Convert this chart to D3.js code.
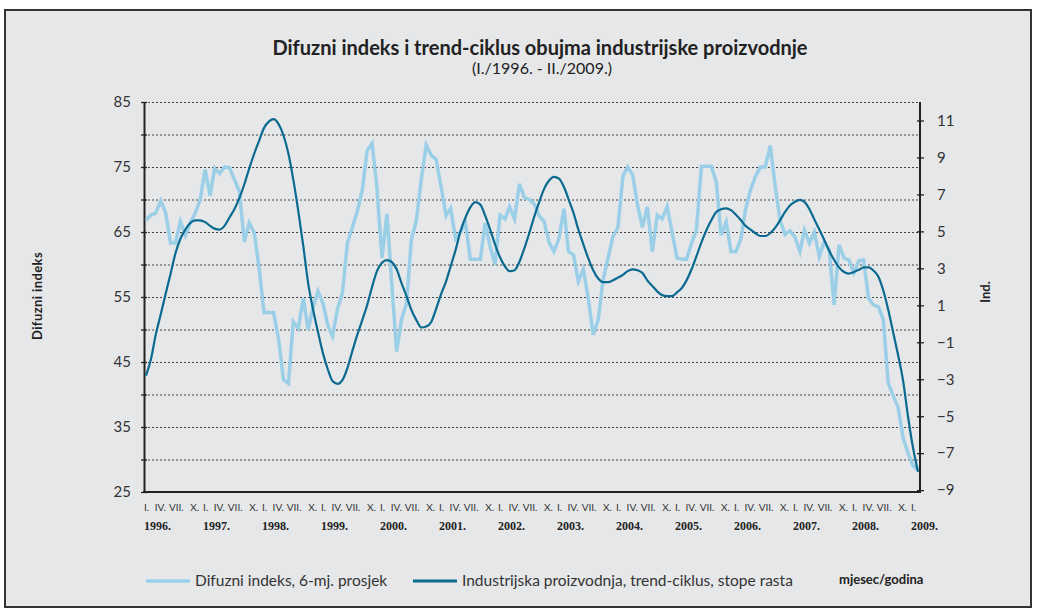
<!DOCTYPE html>
<meta charset="utf-8">
<style>
body { margin: 0; background: #fff; }
svg { display: block; font-family: Lato, "Open Sans", sans-serif; }
.grid line { stroke: #444; stroke-width: 1; stroke-dasharray: 2,2; }
.axis path { stroke: #222; stroke-width: 2; }
.axis line { stroke: #222; stroke-width: 1.3; }
.axis text { font-size: 15px; fill: #333; font-family: Lato, sans-serif; }
</style>
<svg width="1038" height="615"></svg>
<script src="https://cdn.jsdelivr.net/npm/d3@7"></script>
<script>
// monthly data, I./1996. - II./2009.
var difuzni = [
  66.8, 67.6, 67.9, 69.8, 68.0, 63.3, 63.3, 66.6, 64.5, 66.4, 67.9, 69.9,
  74.6, 70.6, 74.8, 74.0, 75.0, 74.9, 73.1, 71.2, 63.5, 66.4, 64.9, 59.5,
  52.6, 52.6, 52.6, 48.5, 42.3, 41.7, 51.2, 50.2, 54.8, 50.0, 53.5, 55.9,
  54.0, 50.5, 49.0, 53.2, 55.6, 63.3, 65.6, 68.2, 71.4, 77.5, 78.6, 71.8,
  61.0, 67.8, 57.3, 46.6, 51.5, 54.0, 63.8, 66.8, 73.2, 78.4, 76.8, 76.2,
  72.0, 67.5, 68.6, 64.0, 65.0, 66.5, 60.8, 60.8, 60.8, 66.4, 62.7, 60.0,
  67.6, 67.0, 68.9, 67.0, 72.4, 70.3, 70.0, 69.3, 67.5, 66.6, 63.4, 62.0,
  64.0, 68.6, 62.0, 61.5, 57.4, 59.3, 54.8, 49.2, 51.5, 57.6, 61.0, 64.3,
  65.7, 73.6, 75.0, 73.8, 69.2, 65.7, 68.9, 62.0, 67.6, 67.0, 68.9, 65.0,
  61.0, 60.8, 60.8, 63.3, 65.3, 75.1, 75.1, 75.1, 72.7, 64.5, 66.6, 62.0,
  62.0, 64.0, 68.5, 71.5, 73.5, 75.0, 75.0, 78.3, 72.0, 66.8, 64.6, 65.2,
  64.2, 62.0, 65.3, 63.3, 65.0, 61.2, 63.5, 62.3, 53.8, 63.0, 61.0, 60.7,
  58.7, 60.6, 60.7, 54.8, 53.8, 53.5, 51.5, 41.7, 39.8, 38.0, 33.3, 31.0,
  29.0, 28.4
];
var trend = [
  -2.8, -1.9, -0.6, 0.5, 1.6, 2.7, 3.8, 4.6, 5.1, 5.45, 5.6, 5.6,
  5.5, 5.3, 5.15, 5.1, 5.3, 5.75, 6.2, 6.8, 7.55, 8.4, 9.2, 9.9,
  10.6, 10.95, 11.07, 10.8, 10.2, 9.2, 7.8, 6.1, 4.2, 2.2, 0.75, -0.45,
  -1.6, -2.5, -3.1, -3.25, -3.05, -2.4, -1.5, -0.6, 0.2, 1.0, 2.0, 2.85,
  3.3, 3.45, 3.35, 2.95, 2.2, 1.5, 0.75, 0.2, -0.2, -0.15, 0.1, 0.8,
  1.6, 2.3, 3.1, 4.0, 5.0, 5.75, 6.3, 6.58, 6.45, 5.85, 5.1, 4.3,
  3.6, 3.1, 2.85, 2.9, 3.35, 4.1, 4.9, 5.8, 6.6, 7.3, 7.75, 7.95,
  7.85, 7.4, 6.75, 6.0, 5.1, 4.3, 3.55, 2.9, 2.45, 2.25, 2.25, 2.35,
  2.5, 2.65, 2.85, 2.95, 2.9, 2.75, 2.35, 2.05, 1.75, 1.55, 1.5, 1.5,
  1.7, 1.95, 2.35, 2.95, 3.65, 4.4, 5.05, 5.6, 6.05, 6.2, 6.25, 6.15,
  5.9, 5.6, 5.3, 5.1, 4.9, 4.75, 4.75, 4.9, 5.2, 5.6, 6.05, 6.4,
  6.6, 6.7, 6.6, 6.2, 5.65, 5.1, 4.55, 3.95, 3.45, 3.05, 2.8, 2.72,
  2.8, 2.92, 3.05, 3.05, 2.88, 2.55, 1.8, 0.75, -0.5, -1.7, -3.1, -5.0,
  -6.7, -8.0
];
var quarterLabels = ["I.", "IV.", "VII.", "X."];
var years = d3.range(1996, 2010);
var leftTicks = [25, 35, 45, 55, 65, 75, 85];
var rightTicks = [-9, -7, -5, -3, -1, 1, 3, 5, 7, 9, 11];

var months = d3.timeMonth.range(new Date(1996, 0, 1), new Date(2009, 2, 1));

var svg = d3.select("svg");
var lightBlue = "#9bcfe7", darkBlue = "#0a6a90";

// frame + background
svg.append("rect").attr("x", 5).attr("y", 10).attr("width", 1026).attr("height", 597)
  .attr("fill", "#e6e7e9").attr("stroke", "#333").attr("stroke-width", 2);

var plotL = 144, plotR = 920, plotT = 102, plotB = 492;
var x = d3.scaleTime().domain([months[0], months[months.length - 1]]).range([146, 918]);
var yL = d3.scaleLinear().domain([25, 85]).range([plotB, plotT]);
var yR = d3.scaleLinear().domain([-9.1, 12]).range([plotB, plotT]);

// dotted grid every 5
svg.append("g").attr("class", "grid")
  .selectAll("line").data(d3.range(30, 86, 5)).enter().append("line")
  .attr("x1", plotL).attr("x2", plotR)
  .attr("y1", function(d) { return yL(d) + 0.5; })
  .attr("y2", function(d) { return yL(d) + 0.5; });

// left axis
var gL = svg.append("g").attr("class", "axis").attr("transform", "translate(" + plotL + ",0)")
  .call(d3.axisLeft(yL).tickValues(d3.range(25, 86, 5)).tickSizeInner(3).tickSizeOuter(0).tickPadding(10)
    .tickFormat(function(d) { return leftTicks.indexOf(d) >= 0 ? d : ""; }));
gL.selectAll(".tick line").attr("x1", 3).attr("x2", -3);

// right axis
var gR = svg.append("g").attr("class", "axis").attr("transform", "translate(" + plotR + ",0)")
  .call(d3.axisRight(yR).tickValues(rightTicks).tickSizeInner(3).tickSizeOuter(0).tickPadding(14));
gR.selectAll(".tick line").attr("x1", -3).attr("x2", 4);
gR.select(".domain").attr("d", "M0," + plotT + "V" + plotB);

// x baseline
svg.append("line").attr("x1", plotL - 1).attr("x2", plotR + 1).attr("y1", plotB).attr("y2", plotB)
  .attr("stroke", "#222").attr("stroke-width", 2);

// month labels (left-aligned near their month)
var qOffset = [-2, -6, -6.5, 0];
var qMonths = months.filter(function(d) { return d.getMonth() % 3 === 0; });
svg.append("g").selectAll("text").data(qMonths).enter().append("text")
  .attr("x", function(d) { return x(d) + qOffset[d.getMonth() / 3]; })
  .attr("y", 511)
  .attr("font-size", 10)
  .attr("fill", "#333")
  .text(function(d) { return quarterLabels[d.getMonth() / 3]; });

svg.append("g").selectAll("text").data(years).enter().append("text")
  .attr("x", function(d) { return x(new Date(d, 0, 1)) - 2; })
  .attr("y", 530)
  .attr("font-size", 12)
  .attr("font-weight", "bold")
  .attr("font-family", "'Liberation Serif', serif")
  .attr("fill", "#222")
  .text(function(d) { return d + "."; });

// lines
var lineL = d3.line().x(function(d, i) { return x(months[i]); }).y(function(d) { return yL(d); });
var lineR = d3.line().x(function(d, i) { return x(months[i]); }).y(function(d) { return yR(d); })
  .curve(d3.curveMonotoneX);

svg.append("path").datum(difuzni).attr("d", lineL)
  .attr("fill", "none").attr("stroke", lightBlue).attr("stroke-width", 3.5).attr("stroke-linejoin", "miter");
svg.append("path").datum(trend).attr("d", lineR)
  .attr("fill", "none").attr("stroke", darkBlue).attr("stroke-width", 2.2);

// titles
svg.append("text").attr("x", 540).attr("y", 55).attr("text-anchor", "middle")
  .attr("font-size", 20).attr("font-weight", "bold").attr("fill", "#222")
  .text("Difuzni indeks i trend-ciklus obujma industrijske proizvodnje");
svg.append("text").attr("x", 542).attr("y", 74).attr("text-anchor", "middle")
  .attr("font-size", 16).attr("fill", "#222")
  .text("(I./1996. - II./2009.)");

svg.append("text").attr("transform", "translate(42,296) rotate(-90)").attr("text-anchor", "middle")
  .attr("font-size", 13).attr("font-weight", "bold").attr("letter-spacing", 0.4).attr("fill", "#222")
  .text("Difuzni indeks");
svg.append("text").attr("transform", "translate(990,292) rotate(-90)").attr("text-anchor", "middle")
  .attr("font-size", 13).attr("font-weight", "bold").attr("fill", "#222").text("Ind.");

// legend
var legend = [
  {name: "Difuzni indeks, 6-mj. prosjek", color: lightBlue, x: 146, w: 3.5},
  {name: "Industrijska proizvodnja, trend-ciklus, stope rasta", color: darkBlue, x: 413, w: 3}
];
var lg = svg.append("g").selectAll("g").data(legend).enter().append("g")
  .attr("transform", function(d) { return "translate(" + d.x + ",581)"; });
lg.append("line").attr("x1", 0).attr("x2", 44).attr("stroke", function(d) { return d.color; })
  .attr("stroke-width", function(d) { return d.w; });
lg.append("text").attr("x", 49).attr("y", 5).attr("font-size", 15.5).attr("fill", "#333")
  .text(function(d) { return d.name; });
svg.append("text").attr("x", 839).attr("y", 584).attr("font-size", 13).attr("font-weight", "bold")
  .attr("fill", "#222").text("mjesec/godina");
</script>
